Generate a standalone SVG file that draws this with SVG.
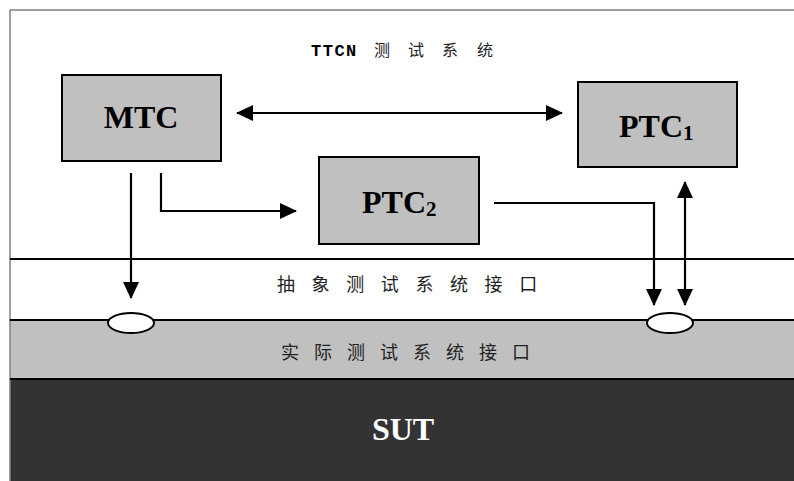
<svg xmlns="http://www.w3.org/2000/svg" width="794" height="481" viewBox="0 0 794 481">
<style>
.box{fill:#c0c0c0;stroke:#000;stroke-width:2}
.lbl{font-family:"Liberation Serif","Times New Roman",serif;font-weight:bold;font-size:32px;fill:#000}
.cjk{font-family:"Noto Sans CJK SC","Noto Sans CJK JP",sans-serif;font-size:18px;fill:#222}
.conn{fill:none;stroke:#000;stroke-width:2.2}
</style>
<defs>
<marker id="ah" markerUnits="userSpaceOnUse" markerWidth="18" markerHeight="18" refX="16" refY="9" orient="auto-start-reverse" viewBox="0 0 18 18">
<path d="M0,1 L17,9 L0,17 z" fill="#000"/>
</marker>
</defs>
<rect x="0" y="0" width="794" height="481" fill="#fff"/>
<g id="bands">
<rect x="10" y="320" width="784" height="59" fill="#c0c0c0"/>
<rect x="10" y="379" width="784" height="102" fill="#333333"/>
<line x1="10" y1="10" x2="794" y2="10" stroke="#808080" stroke-width="1.5"/>
<line x1="10" y1="10" x2="10" y2="481" stroke="#808080" stroke-width="1.5"/>
<line x1="10" y1="259" x2="794" y2="259" stroke="#000" stroke-width="2"/>
<line x1="10" y1="320" x2="794" y2="320" stroke="#000" stroke-width="2"/>
<line x1="10" y1="379" x2="794" y2="379" stroke="#000" stroke-width="2"/>
</g>
<g id="title">
<text x="311" y="56" font-family="'Liberation Mono','Courier New',monospace" font-weight="bold" font-size="17" letter-spacing="1.5">TTCN</text>
<text class="cjk" style="font-size:16px" x="374 408 442 477" y="56">测试系统</text>
</g>
<g id="abstract">
<text class="cjk" x="277 311.6 346.2 380.8 415.4 450 484.6 519.2" y="291">抽象测试系统接口</text>
</g>
<g id="real">
<text class="cjk" x="281 314 347 380 413 446 479 512" y="359">实际测试系统接口</text>
</g>
<g id="SUT">
<text class="lbl" x="403" y="440" text-anchor="middle" style="fill:#fff">SUT</text>
</g>
<g id="MTC">
<rect class="box" x="62" y="75" width="159" height="86"/>
<text class="lbl" x="141" y="128" text-anchor="middle">MTC</text>
</g>
<g id="PTC1">
<rect class="box" x="578" y="82" width="159" height="85"/>
<text class="lbl" x="619" y="137">PTC<tspan font-size="21" dy="3">1</tspan></text>
</g>
<g id="PTC2">
<rect class="box" x="319" y="157" width="160" height="87"/>
<text class="lbl" x="362" y="213">PTC<tspan font-size="21" dy="3">2</tspan></text>
</g>
<g id="ports">
<ellipse cx="131" cy="323" rx="23" ry="10" fill="#fff" stroke="#000" stroke-width="2"/>
<ellipse cx="670" cy="323" rx="23" ry="10" fill="#fff" stroke="#000" stroke-width="2"/>
</g>
<g id="connectors">
<line class="conn" x1="237" y1="113" x2="562" y2="113" marker-start="url(#ah)" marker-end="url(#ah)"/>
<line class="conn" x1="131" y1="173" x2="131" y2="298" marker-end="url(#ah)"/>
<polyline class="conn" points="161,173 161,211 296,211" marker-end="url(#ah)"/>
<polyline class="conn" points="494,203 654,203 654,305" marker-end="url(#ah)"/>
<line class="conn" x1="685" y1="182" x2="685" y2="305" marker-start="url(#ah)" marker-end="url(#ah)"/>
</g>
</svg>
